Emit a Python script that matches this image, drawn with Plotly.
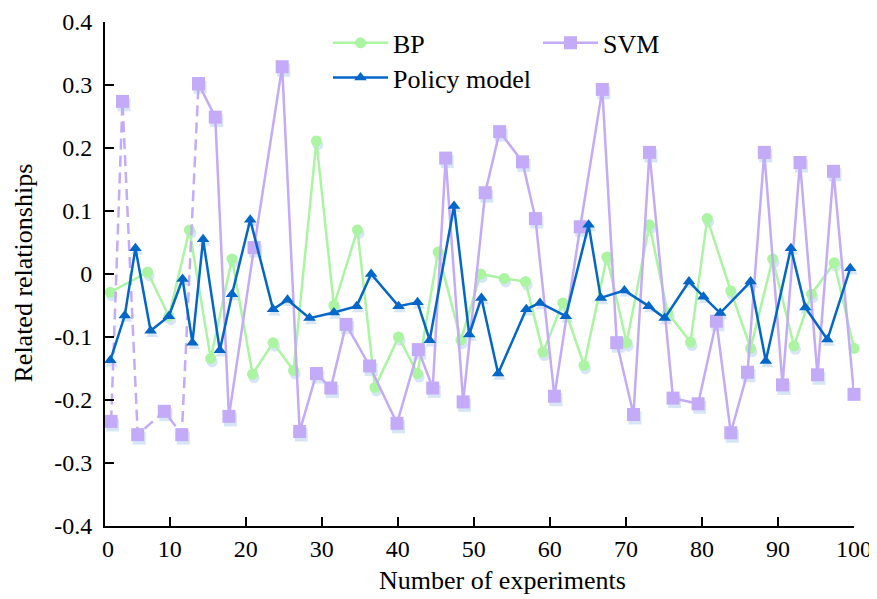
import plotly.graph_objects as go

# ---------------- data ----------------
bp_x = [2.2, 7.1, 9.9, 12.6, 15.4, 18.2, 20.9, 23.6, 26.3, 29.3, 31.6, 34.7, 37.0, 40.1,
        42.6, 45.3, 48.3, 50.9, 54.0, 56.8, 59.1, 61.7, 64.5, 67.5, 70.1, 73.1, 75.5,
        78.5, 80.7, 83.8, 86.4, 89.3, 92.1, 94.4, 97.4, 100.0]
bp_y = [-0.029, 0.003, -0.067, 0.070, -0.134, 0.024, -0.159, -0.109, -0.153, 0.211,
        -0.050, 0.070, -0.180, -0.100, -0.158, 0.035, -0.105, 0.000, -0.007, -0.012,
        -0.124, -0.046, -0.145, 0.027, -0.109, 0.078, -0.062, -0.108, 0.088, -0.027,
        -0.118, 0.024, -0.114, -0.032, 0.018, -0.118]

svm_x = [2.3, 3.8, 5.8, 9.3, 11.6, 13.8, 16.0, 17.8, 21.1, 24.8, 27.1, 29.3, 31.2, 33.2,
         36.3, 39.9, 42.7, 44.6, 46.3, 48.6, 51.5, 53.4, 56.4, 58.1, 60.6, 64.0, 66.9,
         68.8, 71.0, 73.1, 76.2, 79.5, 81.9, 83.8, 86.0, 88.2, 90.6, 92.9, 95.2, 97.3, 100.0]
svm_y = [-0.234, 0.274, -0.255, -0.218, -0.255, 0.302, 0.249, -0.226, 0.042, 0.329,
         -0.250, -0.158, -0.181, -0.080, -0.146, -0.237, -0.120, -0.181, 0.184, -0.203,
         0.129, 0.226, 0.178, 0.088, -0.194, 0.075, 0.293, -0.109, -0.223, 0.193, -0.197,
         -0.206, -0.075, -0.252, -0.156, 0.193, -0.176, 0.177, -0.160, 0.163, -0.191]
svm_dashed_count = 6   # first points joined by a dashed line

pol_x = [2.2, 4.1, 5.5, 7.5, 9.9, 11.7, 13.0, 14.4, 16.6, 18.2, 20.6, 23.6, 25.5, 28.4,
         31.6, 34.6, 36.5, 40.1, 42.6, 44.2, 47.4, 49.4, 51.0, 53.2, 56.9, 58.7, 62.1,
         65.1, 66.7, 69.8, 73.0, 75.1, 78.3, 80.2, 82.4, 86.4, 88.4, 91.7, 93.6, 96.5, 99.5]
pol_y = [-0.137, -0.066, 0.041, -0.090, -0.067, -0.008, -0.109, 0.055, -0.121, -0.032,
         0.086, -0.056, -0.041, -0.070, -0.061, -0.051, 0.000, -0.051, -0.045, -0.105,
         0.108, -0.096, -0.038, -0.158, -0.056, -0.046, -0.067, 0.078, -0.038, -0.026,
         -0.051, -0.070, -0.012, -0.036, -0.062, -0.012, -0.138, 0.041, -0.053, -0.104, 0.009]

x_tick_vals = [1.5, 10, 20, 30, 40, 50, 60, 70, 80, 90, 100]
x_tick_text = ["\u00a00", "10", "20", "30", "40", "50", "60", "70", "80", "90", "100"]
y_tick_vals = [0.4, 0.3, 0.2, 0.1, 0.0, -0.1, -0.2, -0.3, -0.4]
y_tick_text = ["0.4", "0.3", "0.2", "0.1", "0", "-0.1", "-0.2", "-0.3", "-0.4"]

# ---------------- style ----------------
C_BP = "#abf5a2"
C_SVM = "#c4abf8"
C_POL = "#0366c9"
C_SHADOW = "#d6e6f6"
FONT = "Liberation Serif, Times New Roman, serif"

X_RANGE = [1.5, 100]
Y_RANGE = [-0.4, 0.4]
OFF = 8                      # default page body margin of the html page
W, H = 877 - OFF, 599 - OFF
M = dict(l=105 - OFF, r=23, t=19 - OFF, b=73)
pw, ph = W - M["l"] - M["r"], H - M["t"] - M["b"]
px_x = (X_RANGE[1] - X_RANGE[0]) / pw
px_y = (Y_RANGE[1] - Y_RANGE[0]) / ph
SDX, SDY = 1.5 * px_x, -3.5 * px_y   # marker shadow offset


def shadow(xs, ys, symbol, size):
    return go.Scatter(x=[v + SDX for v in xs], y=[v + SDY for v in ys], mode="markers",
                      marker=dict(symbol=symbol, size=size, color=C_SHADOW),
                      showlegend=False, hoverinfo="skip", cliponaxis=False)


fig = go.Figure()
fig.add_trace(shadow(bp_x, bp_y, "circle", 11))
fig.add_trace(shadow(svm_x, svm_y, "square", 13))
fig.add_trace(shadow(pol_x, pol_y, "triangle-up", 11))

fig.add_trace(go.Scatter(x=bp_x, y=bp_y, mode="lines+markers", name="BP",
                         line=dict(color=C_BP, width=2.5),
                         marker=dict(symbol="circle", size=11, color=C_BP),
                         legend="legend", cliponaxis=False))
fig.add_trace(go.Scatter(x=svm_x[:svm_dashed_count], y=svm_y[:svm_dashed_count],
                         mode="lines+markers", name="SVM",
                         line=dict(color=C_SVM, width=2.5, dash="11px,6px"),
                         marker=dict(symbol="square", size=13, color=C_SVM),
                         showlegend=False, cliponaxis=False))
fig.add_trace(go.Scatter(x=svm_x[svm_dashed_count - 1:], y=svm_y[svm_dashed_count - 1:],
                         mode="lines+markers", name="SVM",
                         line=dict(color=C_SVM, width=2.5),
                         marker=dict(symbol="square", size=13, color=C_SVM),
                         legend="legend2", cliponaxis=False))
fig.add_trace(go.Scatter(x=pol_x, y=pol_y, mode="lines+markers", name="Policy model",
                         line=dict(color=C_POL, width=2.5),
                         marker=dict(symbol="triangle-up", size=11, color=C_POL),
                         legend="legend3", cliponaxis=False))


def ppx(v):
    # screen pixel x -> paper fraction
    return (v - OFF - M["l"]) / pw


def ppy(v):
    # screen pixel y -> paper fraction
    return (H - M["b"] - (v - OFF)) / ph


leg = dict(font=dict(family=FONT, size=26, color="black"), bgcolor="rgba(0,0,0,0)",
           itemwidth=55, xanchor="left", yanchor="middle", tracegroupgap=0)
axis_common = dict(ticks="inside", ticklen=9, tickwidth=2, tickcolor="black",
                   showline=True, linecolor="black", linewidth=2, showgrid=False,
                   zeroline=False, automargin=False, tickmode="array",
                   tickfont=dict(family=FONT, size=24, color="black"))
fig.update_layout(
    template="none",
    width=W, height=H, margin=M,
    paper_bgcolor="white", plot_bgcolor="white",
    font=dict(family=FONT, size=24, color="black"),
    legend=dict(leg, x=ppx(328), y=ppy(40)),
    legend2=dict(leg, x=ppx(538), y=ppy(40)),
    legend3=dict(leg, x=ppx(328), y=ppy(75)),
    xaxis=dict(axis_common, range=X_RANGE, tickvals=x_tick_vals, ticktext=x_tick_text),
    yaxis=dict(axis_common, range=Y_RANGE, tickvals=y_tick_vals, ticktext=y_tick_text,
               ticklabelstandoff=6),
    annotations=[
        dict(text="Number of experiments", xref="paper", yref="paper",
             x=ppx(502), y=ppy(581), xanchor="center", yanchor="middle",
             showarrow=False, font=dict(family=FONT, size=26)),
        dict(text="Related relationships", xref="paper", yref="paper", textangle=-90,
             x=ppx(24), y=ppy(272), xanchor="center", yanchor="middle",
             showarrow=False, font=dict(family=FONT, size=26)),
    ],
)

fig.write_html("out.html")
